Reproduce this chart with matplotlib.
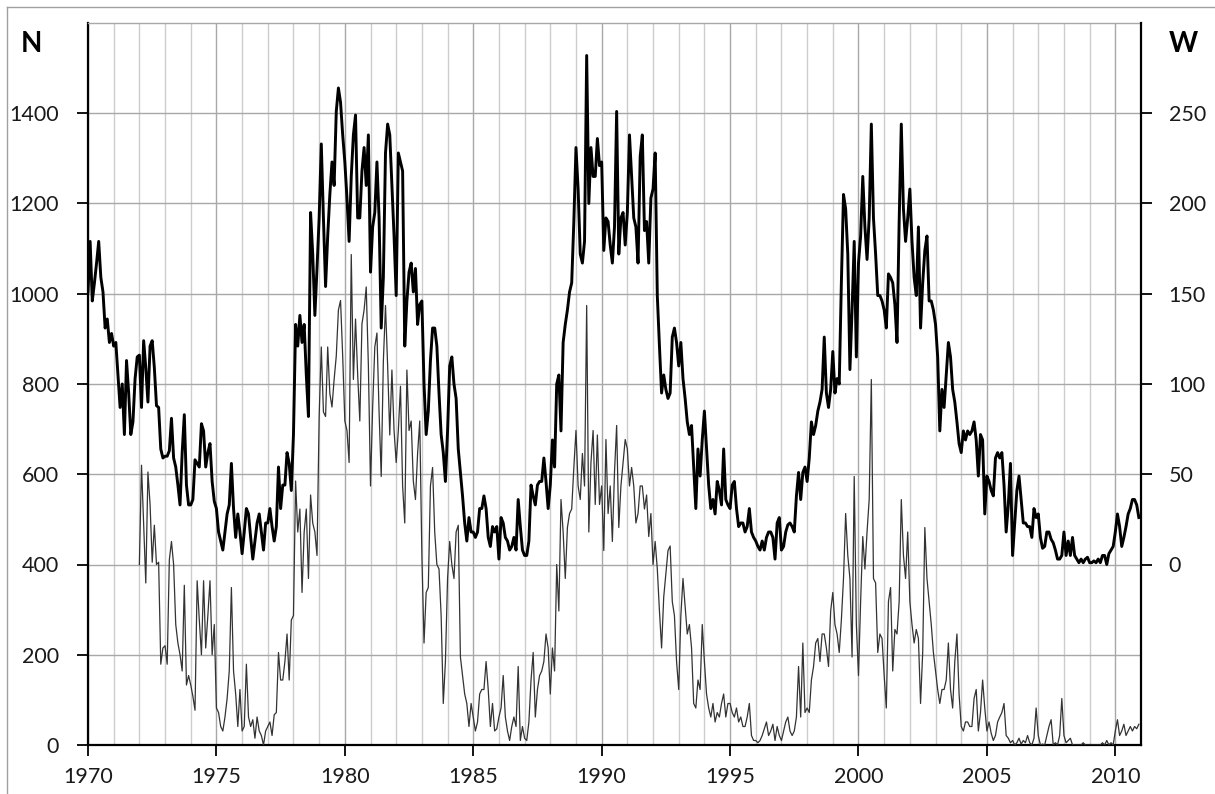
import numpy as np
import matplotlib.pyplot as plt
from matplotlib.lines import Line2D

plt.rcParams['font.family'] = ['Lato', 'DejaVu Sans']

# monthly W (right axis), Jan 1970 .. Dec 2010, one row per year
w_vals = [
    151, 179, 146, 156, 167, 179, 159, 151, 131, 136, 123, 128,  # 1970
    121, 123, 105, 87, 100, 72, 113, 95, 72, 79, 103, 115,       # 1971
    116, 87, 124, 109, 90, 121, 124, 109, 88, 87, 64, 59,        # 1972
    60, 60, 63, 81, 59, 54, 44, 33, 62, 83, 44, 33,              # 1973
    33, 36, 58, 56, 54, 78, 74, 54, 62, 67, 46, 35,              # 1974
    31, 18, 13, 8, 18, 28, 33, 56, 31, 15, 28, 18,               # 1975
    6, 18, 31, 28, 15, 3, 13, 23, 28, 18, 8, 23,                 # 1976
    23, 31, 21, 13, 21, 54, 31, 44, 44, 62, 56, 41,              # 1977
    72, 133, 121, 138, 123, 133, 105, 82, 195, 172, 138, 164,    # 1978
    192, 233, 192, 154, 182, 205, 223, 210, 251, 264, 256, 238,  # 1979
    223, 203, 179, 215, 238, 249, 192, 192, 218, 231, 210, 238,  # 1980
    162, 187, 195, 223, 192, 131, 159, 228, 244, 238, 210, 182,  # 1981
    149, 228, 223, 218, 121, 146, 162, 167, 151, 164, 133, 144,  # 1982
    146, 100, 72, 85, 113, 131, 131, 121, 95, 72, 62, 46,        # 1983
    74, 110, 115, 100, 92, 64, 51, 38, 23, 13, 26, 18,           # 1984
    18, 15, 18, 31, 31, 38, 31, 15, 10, 21, 18, 21,              # 1985
    3, 26, 23, 15, 13, 8, 10, 15, 8, 36, 21, 8,                  # 1986
    5, 5, 13, 44, 38, 33, 44, 46, 46, 59, 46, 31,                # 1987
    44, 69, 54, 100, 105, 74, 123, 133, 141, 151, 156, 190,      # 1988
    231, 208, 172, 167, 179, 282, 200, 231, 215, 215, 236, 221,  # 1989
    223, 174, 192, 190, 177, 167, 187, 251, 172, 192, 195, 177,  # 1990
    195, 238, 215, 192, 187, 167, 226, 238, 185, 190, 167, 203,  # 1991
    208, 228, 149, 121, 95, 105, 97, 92, 95, 126, 131, 123,      # 1992
    110, 123, 103, 92, 79, 72, 77, 54, 31, 64, 49, 69,           # 1993
    85, 64, 44, 31, 36, 28, 46, 41, 33, 64, 36, 33,              # 1994
    31, 44, 46, 31, 21, 23, 23, 18, 21, 31, 18, 15,              # 1995
    13, 10, 8, 13, 8, 15, 18, 18, 15, 3, 23, 26,                 # 1996
    8, 10, 18, 22, 23, 21, 18, 38, 51, 36, 51, 54,               # 1997
    46, 59, 79, 72, 77, 85, 90, 97, 126, 95, 87, 97,             # 1998
    118, 95, 103, 100, 156, 205, 197, 172, 108, 141, 179, 115,   # 1999
    167, 182, 215, 187, 169, 192, 244, 192, 172, 149, 149, 146,  # 2000
    141, 131, 161, 159, 156, 144, 123, 190, 244, 197, 179, 192,  # 2001
    208, 179, 159, 149, 187, 131, 156, 174, 182, 146, 146, 141,  # 2002
    133, 115, 74, 97, 87, 105, 123, 115, 97, 90, 79, 67,         # 2003
    62, 74, 69, 74, 72, 74, 79, 69, 49, 72, 69, 28,              # 2004
    49, 46, 41, 38, 59, 62, 59, 62, 44, 18, 33, 56,              # 2005
    5, 23, 41, 49, 36, 23, 23, 21, 21, 15, 31, 26,               # 2006
    28, 15, 9, 10, 18, 18, 14, 12, 8, 3, 3, 5,                   # 2007
    18, 5, 13, 5, 15, 5, 3, 1, 3, 1, 3, 4,                       # 2008
    1, 1, 2, 1, 3, 1, 5, 5, 0, 6, 8, 10,                         # 2009
    18, 28, 21, 10, 15, 21, 28, 31, 36, 36, 33, 26,              # 2010
]

# monthly N (left axis), Jan 1972 .. Dec 2010
n_vals = [
    400, 620, 492, 359, 605, 533, 405, 487, 400, 405, 179, 215,   # 1972
    220, 179, 410, 451, 400, 267, 226, 200, 164, 354, 133, 154,   # 1973
    133, 108, 77, 364, 277, 200, 364, 215, 287, 364, 200, 267,    # 1974
    82, 72, 41, 31, 62, 103, 164, 349, 164, 113, 41, 123,         # 1975
    31, 41, 179, 62, 41, 56, 15, 62, 31, 21, 0, 31,               # 1976
    41, 51, 21, 67, 72, 205, 144, 144, 185, 246, 144, 277,        # 1977
    287, 585, 472, 523, 338, 472, 523, 369, 554, 492, 472, 420,   # 1978
    728, 882, 738, 728, 882, 779, 749, 810, 862, 964, 985, 862,   # 1979
    718, 697, 626, 1087, 810, 944, 821, 718, 933, 964, 1015, 841, # 1980
    574, 749, 882, 913, 738, 595, 851, 974, 841, 687, 831, 697,   # 1981
    626, 697, 795, 574, 492, 831, 697, 718, 585, 544, 646, 718,   # 1982
    420, 226, 338, 349, 574, 615, 472, 400, 390, 287, 92, 185,    # 1983
    369, 451, 400, 369, 472, 487, 195, 154, 113, 92, 41, 92,      # 1984
    62, 31, 51, 113, 123, 123, 185, 123, 41, 92, 31, 36,          # 1985
    62, 82, 154, 62, 31, 10, 41, 62, 41, 174, 10, 41,             # 1986
    15, 10, 51, 144, 205, 62, 123, 154, 164, 185, 246, 215,       # 1987
    113, 215, 164, 400, 297, 544, 472, 369, 482, 513, 523, 615,   # 1988
    697, 574, 544, 646, 574, 974, 472, 626, 697, 533, 687, 533,   # 1989
    574, 431, 677, 513, 574, 451, 605, 708, 482, 574, 626, 677,   # 1990
    656, 574, 615, 574, 492, 513, 574, 574, 523, 554, 462, 513,   # 1991
    400, 451, 390, 297, 215, 328, 379, 431, 441, 318, 287, 185,   # 1992
    123, 287, 369, 308, 246, 267, 215, 92, 82, 144, 123, 267,     # 1993
    185, 113, 82, 62, 92, 51, 72, 62, 92, 113, 62, 92,            # 1994
    92, 72, 62, 82, 51, 62, 41, 41, 62, 92, 21, 10,               # 1995
    10, 5, 10, 21, 36, 51, 21, 31, 46, 10, 41, 21,                # 1996
    10, 31, 51, 62, 31, 21, 31, 62, 174, 62, 226, 72,             # 1997
    82, 72, 144, 174, 226, 236, 185, 246, 246, 215, 174, 297,     # 1998
    338, 267, 246, 205, 277, 369, 513, 420, 369, 195, 595, 267,   # 1999
    154, 318, 462, 390, 472, 544, 810, 369, 359, 205, 246, 236,   # 2000
    154, 82, 318, 349, 164, 256, 246, 318, 544, 421, 369, 472,    # 2001
    318, 267, 226, 256, 236, 92, 205, 482, 369, 318, 267, 205,    # 2002
    164, 123, 92, 123, 123, 144, 226, 123, 82, 185, 246, 113,     # 2003
    41, 31, 51, 51, 41, 41, 103, 123, 31, 72, 144, 82,            # 2004
    31, 51, 26, 10, 21, 51, 62, 72, 92, 21, 15, 5,                # 2005
    10, 0, 5, 15, 2, 10, 5, 21, 5, 0, 15, 82,                     # 2006
    21, 0, 2, 0, 21, 41, 56, 0, 5, 0, 21, 103,                    # 2007
    21, 5, 10, 15, 0, 0, 0, 0, 0, 5, 0, 0,                        # 2008
    0, 0, 0, 0, 0, 0, 5, 0, 10, 0, 5, 0,                          # 2009
    31, 56, 21, 31, 46, 21, 31, 41, 31, 41, 36, 46,               # 2010
]

w_start = 1970
n_start = 1972
n_ticks = list(range(0, 1401, 200))
w_ticks = list(range(0, 251, 50))
year_ticks = list(range(1970, 2011, 5))

t_w = w_start + np.arange(len(w_vals)) / 12
t_n = n_start + np.arange(len(n_vals)) / 12

W, H = 1215, 794
fig = plt.figure(figsize=(W / 100, H / 100), dpi=100)
ax = fig.add_axes([88 / W, 1 - 745 / H, (1141 - 88) / W, (745 - 23) / H])
ax2 = ax.twinx()

txt = '#1a1a1a'
ax.plot(t_n, n_vals, color='#333333', lw=0.9, zorder=3)
ax2.plot(t_w, w_vals, color='black', lw=2.1, zorder=3)

ax.set_xlim(1970, 2011)
ax.set_ylim(0, 1600)
ax2.set_ylim(-100, 300)  # W=0 sits on N=400, W=250 on N=1400

ax.set_yticks(n_ticks)
ax2.set_yticks(w_ticks)
ax.set_xticks(year_ticks)
ax.set_xticks(range(1970, 2012), minor=True)

ax.grid(axis='y', color='#a8a8a8', lw=1.0)
ax.grid(axis='x', which='major', color='#a8a8a8', lw=1.0)
ax.grid(axis='x', which='minor', color='#cccccc', lw=1.0)
ax.set_axisbelow(True)

ax.tick_params(axis='y', direction='out', length=8, width=1.3, pad=13, labelsize=15.5, labelcolor=txt)
ax.tick_params(axis='x', direction='out', length=8, width=1.3, pad=8, labelsize=15.5, labelcolor=txt)
ax.tick_params(axis='x', which='minor', length=0)
ax2.tick_params(axis='y', direction='out', length=8, width=1.3, pad=12, labelsize=15.5, labelcolor=txt)

for s in ['left', 'bottom']:
    ax.spines[s].set_linewidth(1.6)
    ax.spines[s].set_color('black')
ax.spines['top'].set_color('#a8a8a8')
ax.spines['top'].set_linewidth(1.0)
ax.spines['right'].set_visible(False)
for s in ['left', 'bottom', 'top']:
    ax2.spines[s].set_visible(False)
ax2.spines['right'].set_linewidth(1.6)
ax2.spines['right'].set_color('black')

fig.text(31 / W, 1 - 44 / H, 'N', fontsize=20, fontweight='bold', ha='center', va='center', color='black')
fig.text(1183 / W, 1 - 44 / H, 'W', fontsize=20, fontweight='bold', ha='center', va='center', color='black')

# outer frame of the picture
fig.add_artist(Line2D([7 / W, 7 / W], [0, 1 - 7 / H], color='#a0a0a0', lw=1.0))
fig.add_artist(Line2D([7 / W, 1], [1 - 7 / H, 1 - 7 / H], color='#a0a0a0', lw=1.0))

fig.savefig('out.png', dpi=100)
